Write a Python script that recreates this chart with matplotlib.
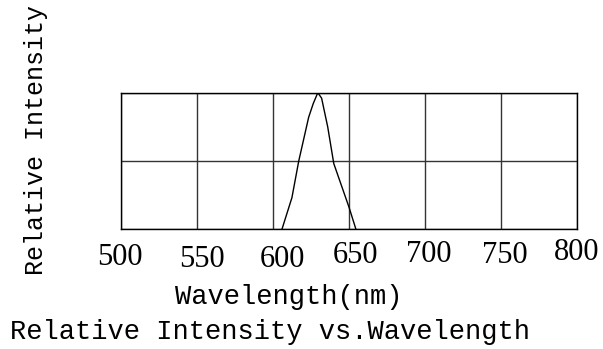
import matplotlib
matplotlib.use("Agg")
import matplotlib.pyplot as plt
from matplotlib.transforms import ScaledTranslation

# data
wavelength = [606, 612.5, 617, 623.5, 626.5, 629.5, 632, 636, 640, 650, 654.5]
intensity = [0.0, 0.23, 0.50, 0.82, 0.92, 1.0, 0.96, 0.75, 0.48, 0.16, 0.0]
xticks = [500, 550, 600, 650, 700, 750, 800]
xtick_labels = ["500", "550", "600", "650", "700", "750", "800"]
ylabel = "Relative Intensity"
xlabel = "Wavelength(nm)"
title = "Relative Intensity vs.Wavelength"

W, H = 603, 349
fig = plt.figure(figsize=(W / 100, H / 100), dpi=100)
L, R, T, B = 120.7, 577.3, 92.7, 229.0
ax = fig.add_axes([L / W, 1 - B / H, (R - L) / W, (B - T) / H])

ax.plot(wavelength, intensity, color="black", lw=1.0)
ax.set_xlim(500, 800)
ax.set_ylim(0, 1)
ax.set_xticks(xticks)
ax.set_xticklabels(xtick_labels, fontfamily="Liberation Serif", fontsize=22)
ax.set_yticks([0, 0.5, 1])
ax.set_yticklabels([])
ax.tick_params(length=0, pad=0)
ax.grid(True, color="#333333", lw=1.0)
for s in ax.spines.values():
    s.set_color("black")
    s.set_linewidth(1.0)

# per-label placement in pixels: horizontal shift, baseline distance below the axes
label_dx = [-0.7, 4.9, 9.6, 6.0, 3.2, 3.8, -0.6]
label_baseline = [265, 267, 267, 263, 261.7, 263, 260]
for lab, dx, bl in zip(ax.get_xticklabels(), label_dx, label_baseline):
    lab.set_va("baseline")
    lab.set_transform(lab.get_transform() + ScaledTranslation(dx / 100, -(bl - B) / 100, fig.dpi_scale_trans))

mono = "Liberation Mono"
fig.text(289 / W, 1 - 304 / H, xlabel, family=mono, fontsize=19.5, ha="center", va="baseline")
fig.text(10 / W, 1 - 339 / H, title, family=mono, fontsize=19.5, ha="left", va="baseline")
fig.text(43 / W, 1 - 140 / H, ylabel, family=mono, fontsize=18, rotation=90,
         rotation_mode="anchor", ha="center", va="baseline")

fig.savefig("out.png", dpi=100, facecolor="white")
